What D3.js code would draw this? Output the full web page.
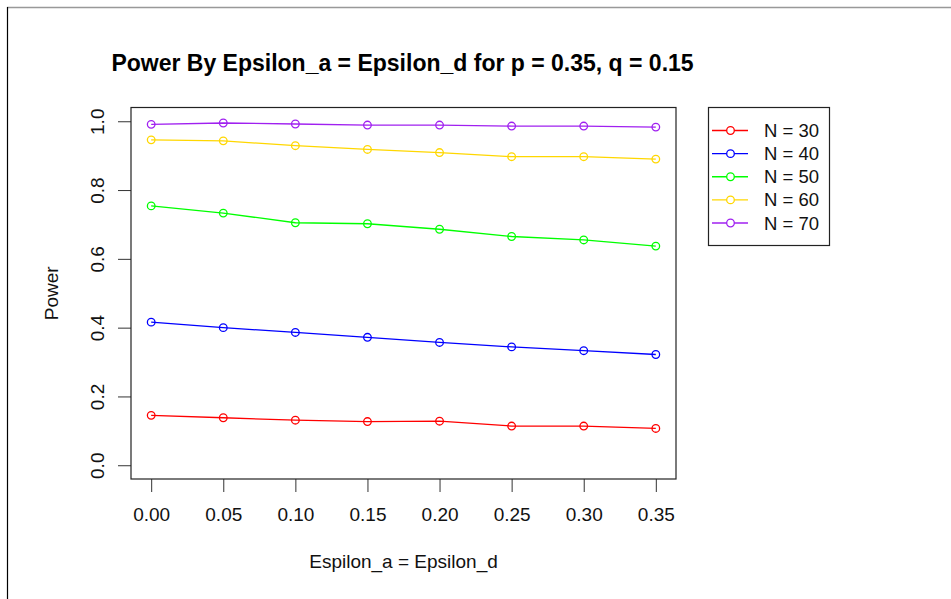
<!DOCTYPE html>
<html>
<head>
<meta charset="utf-8">
<script src="https://cdn.jsdelivr.net/npm/d3@7"></script>
<style>
  body { margin: 0; background: #fff; }
  svg { display: block; font-family: "Liberation Sans", Arial, sans-serif; }
</style>
</head>
<body>
<svg width="951" height="599"></svg>
<script>
// epsilon values on the x axis
var epsilons = [0.00, 0.05, 0.10, 0.15, 0.20, 0.25, 0.30, 0.35];
var xTickLabels = ['0.00', '0.05', '0.10', '0.15', '0.20', '0.25', '0.30', '0.35'];
var yTicks = [0.0, 0.2, 0.4, 0.6, 0.8, 1.0];

// power for each sample size
var seriesNames = ['N = 30', 'N = 40', 'N = 50', 'N = 60', 'N = 70'];
var seriesColors = ['#ff0000', '#0000ff', '#00ff00', '#ffd700', '#a020f0'];
var power30 = [0.145, 0.138, 0.131, 0.127, 0.128, 0.114, 0.114, 0.107];
var power40 = [0.416, 0.400, 0.386, 0.372, 0.357, 0.344, 0.333, 0.322];
var power50 = [0.754, 0.733, 0.705, 0.702, 0.686, 0.665, 0.655, 0.637];
var power60 = [0.946, 0.943, 0.929, 0.918, 0.909, 0.897, 0.897, 0.890];
var power70 = [0.991, 0.995, 0.992, 0.989, 0.989, 0.986, 0.986, 0.983];
var seriesValues = [power30, power40, power50, power60, power70];

var svg = d3.select('svg');

// 外框
svg.append('line').attr('x1', 7).attr('y1', 7.5).attr('x2', 951).attr('y2', 7.5)
    .attr('stroke', '#999').attr('stroke-width', 1.5);
svg.append('line').attr('x1', 7.5).attr('y1', 7).attr('x2', 7.5).attr('y2', 599)
    .attr('stroke', '#000').attr('stroke-width', 1.2);

// plot region (R style 4% padding)
var plotLeft = 131, plotRight = 676, plotTop = 107.5, plotBottom = 479;

var x = d3.scaleLinear()
    .domain([-0.35 * 0.04, 0.35 * 1.04])
    .range([plotLeft, plotRight]);
var y = d3.scaleLinear()
    .domain([-0.04, 1.04])
    .range([plotBottom, plotTop]);

var tickLen = 13;
var fontSize = 19;

// x axis
var xAxis = svg.append('g')
    .attr('transform', 'translate(0,' + plotBottom + ')')
    .call(d3.axisBottom(x).tickValues(epsilons)
        .tickFormat(function (d, i) { return xTickLabels[i]; })
        .tickSize(tickLen).tickPadding(16));
xAxis.select('.domain').remove();
xAxis.selectAll('line').attr('stroke', '#333').attr('stroke-width', 1);
xAxis.selectAll('text').attr('font-size', fontSize).attr('fill', '#111')
    .attr('font-family', '"Liberation Sans", Arial, sans-serif');

// y axis, labels rotated like R
var yAxis = svg.append('g')
    .attr('transform', 'translate(' + plotLeft + ',0)')
    .call(d3.axisLeft(y).tickValues(yTicks)
        .tickFormat(d3.format('.1f'))
        .tickSize(tickLen));
yAxis.select('.domain').remove();
yAxis.selectAll('line').attr('stroke', '#333').attr('stroke-width', 1);
yAxis.selectAll('text')
    .attr('font-size', fontSize).attr('fill', '#111')
    .attr('font-family', '"Liberation Sans", Arial, sans-serif')
    .attr('x', null).attr('dy', null)
    .attr('text-anchor', 'middle')
    .attr('dominant-baseline', 'central')
    .attr('transform', 'translate(-34,0) rotate(-90)');

// box
svg.append('rect')
    .attr('x', plotLeft).attr('y', plotTop)
    .attr('width', plotRight - plotLeft).attr('height', plotBottom - plotTop)
    .attr('fill', 'none').attr('stroke', '#222').attr('stroke-width', 1.2);

// lines + points
var line = d3.line()
    .x(function (d, i) { return x(epsilons[i]); })
    .y(function (d) { return y(d); });

seriesValues.forEach(function (vals, s) {
    var g = svg.append('g').attr('class', 'series');
    g.append('path')
        .datum(vals)
        .attr('d', line)
        .attr('fill', 'none')
        .attr('stroke', seriesColors[s])
        .attr('stroke-width', 1.3);
    g.selectAll('circle')
        .data(vals)
        .enter()
            .append('circle')
            .attr('cx', function (d, i) { return x(epsilons[i]); })
            .attr('cy', function (d) { return y(d); })
            .attr('r', 3.8)
            .attr('fill', 'none')
            .attr('stroke', seriesColors[s])
            .attr('stroke-width', 1.3);
});

// titles
svg.append('text')
    .text('Power By Epsilon_a = Epsilon_d for p = 0.35, q = 0.15')
    .attr('x', (plotLeft + plotRight) / 2 - 1)
    .attr('y', 63)
    .attr('text-anchor', 'middle')
    .attr('dominant-baseline', 'central')
    .attr('font-size', 23)
    .attr('font-weight', 'bold')
    .attr('fill', '#000');

svg.append('text')
    .text('Espilon_a = Epsilon_d')
    .attr('x', (plotLeft + plotRight) / 2)
    .attr('y', 561)
    .attr('text-anchor', 'middle')
    .attr('dominant-baseline', 'central')
    .attr('font-size', fontSize)
    .attr('fill', '#111');

svg.append('text')
    .text('Power')
    .attr('transform', 'translate(51,' + ((plotTop + plotBottom) / 2) + ') rotate(-90)')
    .attr('text-anchor', 'middle')
    .attr('dominant-baseline', 'central')
    .attr('font-size', fontSize)
    .attr('fill', '#111');

// legend
var legend = svg.append('g').attr('class', 'legend');
legend.append('rect')
    .attr('x', 708.5).attr('y', 107.5)
    .attr('width', 121).attr('height', 138)
    .attr('fill', '#fff').attr('stroke', '#222').attr('stroke-width', 1.2);

var legendY = d3.scalePoint()
    .domain(seriesNames)
    .range([130.5, 223]);

var items = legend.selectAll('g.item')
    .data(seriesNames)
    .enter()
        .append('g')
        .attr('class', 'item')
        .attr('transform', function (d) { return 'translate(0,' + legendY(d) + ')'; });
items.append('line')
    .attr('x1', 712).attr('x2', 748).attr('y1', 0).attr('y2', 0)
    .attr('stroke', function (d, i) { return seriesColors[i]; })
    .attr('stroke-width', 1.3);
items.append('circle')
    .attr('cx', 730.5).attr('cy', 0).attr('r', 3.8)
    .attr('fill', '#fff')
    .attr('stroke', function (d, i) { return seriesColors[i]; })
    .attr('stroke-width', 1.3);
items.append('text')
    .text(function (d) { return d; })
    .attr('x', 764).attr('y', 0)
    .attr('dominant-baseline', 'central')
    .attr('font-size', 18.5)
    .attr('fill', '#111');
</script>
</body>
</html>
